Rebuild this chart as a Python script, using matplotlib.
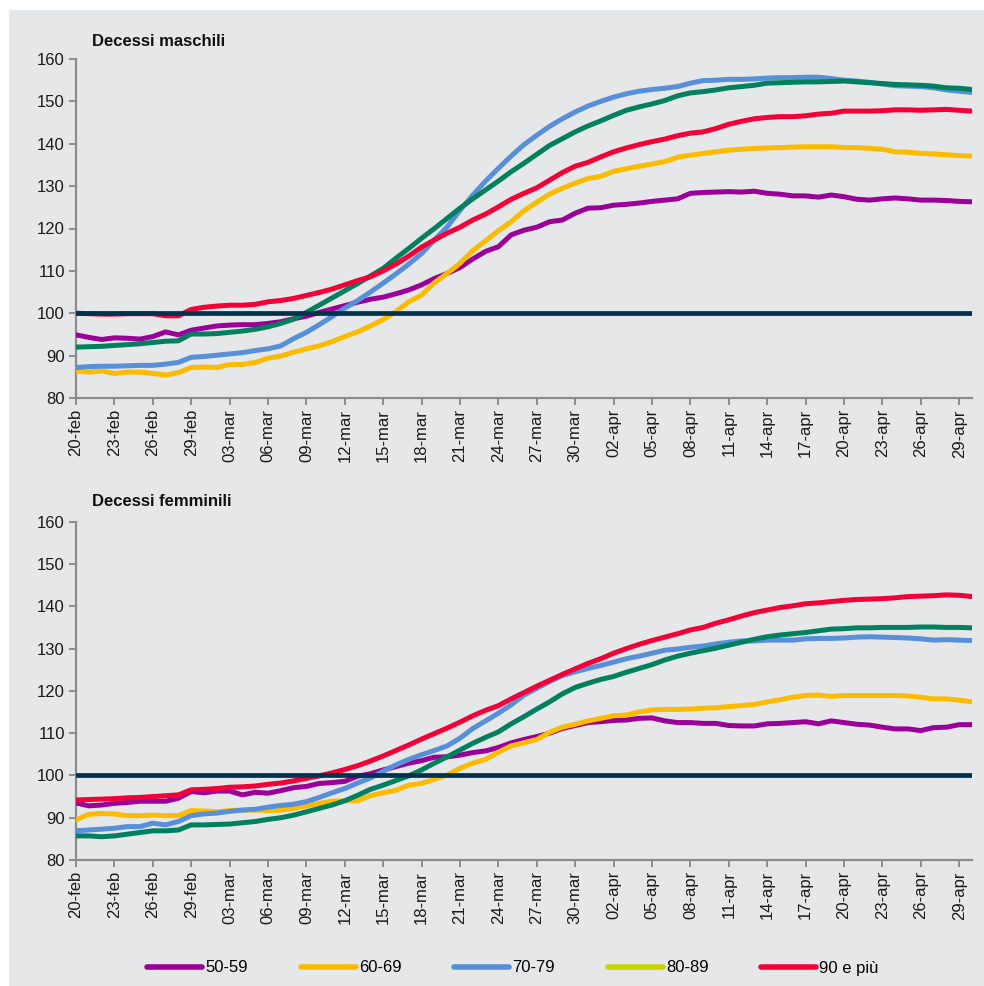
import numpy as np
import pandas as pd
import matplotlib
matplotlib.use("Agg")
import matplotlib.pyplot as plt
from matplotlib.lines import Line2D
from matplotlib.patches import Rectangle

plt.rcParams['font.family'] = ['Liberation Sans', 'DejaVu Sans']

# daily dates 20-feb .. 30-apr 2020
dates = pd.date_range('2020-02-20', '2020-04-30', freq='D')
mesi = {2: 'feb', 3: 'mar', 4: 'apr'}

groups = ['50-59', '60-69', '70-79', '80-89', '90 e più']

# Decessi maschili (index, base = 100)
m_50_59 = [94.9, 94.3, 93.8, 94.2, 94.1, 93.9, 94.5, 95.6, 94.9, 96.0,
           96.5, 97.0, 97.2, 97.3, 97.3, 97.6, 98.0, 98.7, 99.3, 100.2,
           101.0, 101.8, 102.6, 103.3, 103.8, 104.6, 105.5, 106.7, 108.2, 109.4,
           110.8, 112.8, 114.6, 115.7, 118.5, 119.6, 120.3, 121.6, 122.0, 123.6,
           124.8, 124.9, 125.5, 125.7, 126.0, 126.4, 126.7, 127.0, 128.3, 128.5,
           128.6, 128.7, 128.6, 128.8, 128.3, 128.1, 127.7, 127.7, 127.4, 127.9,
           127.5, 126.9, 126.7, 127.0, 127.2, 127.0, 126.7, 126.7, 126.6, 126.4,
           126.3]
m_60_69 = [86.4, 86.1, 86.4, 85.8, 86.1, 86.1, 85.8, 85.4, 86.0, 87.2,
           87.3, 87.2, 87.9, 87.9, 88.4, 89.4, 89.9, 90.8, 91.6, 92.3,
           93.3, 94.5, 95.6, 97.0, 98.5, 100.4, 102.7, 104.3, 107.2, 109.4,
           111.8, 114.8, 117.1, 119.5, 121.6, 124.2, 126.2, 128.1, 129.5, 130.7,
           131.8, 132.3, 133.5, 134.1, 134.7, 135.2, 135.8, 136.8, 137.3, 137.7,
           138.1, 138.5, 138.7, 138.9, 139.0, 139.1, 139.2, 139.3, 139.3, 139.3,
           139.1, 139.1, 138.9, 138.7, 138.1, 138.0, 137.7, 137.6, 137.4, 137.2,
           137.1]
m_70_79 = [87.2, 87.4, 87.5, 87.5, 87.6, 87.7, 87.7, 88.0, 88.4, 89.6,
           89.8, 90.1, 90.4, 90.7, 91.2, 91.6, 92.3, 94.0, 95.5, 97.3,
           99.2, 101.2, 103.0, 105.0, 107.1, 109.3, 111.6, 114.1, 117.3, 120.4,
           124.3, 127.9, 131.2, 134.2, 137.1, 139.8, 142.0, 144.1, 145.9, 147.5,
           148.9, 150.0, 151.0, 151.8, 152.4, 152.8, 153.1, 153.5, 154.3, 154.9,
           155.0, 155.2, 155.2, 155.3, 155.5, 155.6, 155.6, 155.7, 155.7, 155.4,
           155.0, 154.8, 154.5, 154.1, 153.7, 153.6, 153.5, 153.2, 152.7, 152.4,
           152.1]
m_80_89 = [92.0, 92.1, 92.2, 92.4, 92.6, 92.8, 93.1, 93.4, 93.5, 95.1,
           95.1, 95.2, 95.5, 95.8, 96.2, 96.8, 97.6, 98.6, 100.2, 101.9,
           103.6, 105.3, 107.0, 108.8, 110.6, 113.0, 115.3, 117.7, 120.0, 122.4,
           124.8, 127.0, 129.1, 131.2, 133.4, 135.4, 137.5, 139.6, 141.2, 142.8,
           144.2, 145.4, 146.7, 147.9, 148.7, 149.4, 150.2, 151.3, 152.0, 152.3,
           152.7, 153.2, 153.5, 153.8, 154.3, 154.4, 154.5, 154.6, 154.6, 154.7,
           154.8, 154.6, 154.4, 154.2, 154.0, 153.9, 153.8, 153.6, 153.2, 153.1,
           152.8]
m_90_piu = [100.0, 99.9, 99.8, 99.8, 99.9, 99.9, 99.9, 99.4, 99.4, 100.9,
            101.4, 101.7, 101.9, 101.9, 102.1, 102.7, 103.0, 103.5, 104.2, 104.9,
            105.7, 106.7, 107.7, 108.6, 110.0, 111.6, 113.5, 115.6, 117.3, 118.9,
            120.3, 122.0, 123.4, 125.1, 126.9, 128.3, 129.6, 131.4, 133.2, 134.7,
            135.6, 136.9, 138.1, 139.0, 139.8, 140.5, 141.1, 141.9, 142.5, 142.8,
            143.6, 144.6, 145.3, 145.9, 146.2, 146.4, 146.4, 146.6, 147.0, 147.2,
            147.7, 147.7, 147.7, 147.8, 148.0, 148.0, 147.9, 148.0, 148.1, 147.9,
            147.7]

# Decessi femminili
f_50_59 = [93.5, 92.8, 93.0, 93.4, 93.6, 93.9, 93.9, 93.9, 94.6, 96.2,
           95.9, 96.3, 96.3, 95.4, 96.0, 95.8, 96.4, 97.1, 97.4, 98.1,
           98.3, 98.6, 99.8, 100.4, 101.3, 102.1, 102.9, 103.5, 104.3, 104.4,
           104.8, 105.4, 105.8, 106.6, 107.7, 108.5, 109.2, 110.0, 111.1, 111.8,
           112.5, 112.7, 113.0, 113.1, 113.5, 113.6, 112.9, 112.5, 112.5, 112.3,
           112.3, 111.8, 111.7, 111.7, 112.2, 112.3, 112.5, 112.7, 112.2, 112.9,
           112.5, 112.1, 111.9, 111.4, 111.0, 111.0, 110.6, 111.3, 111.4, 112.0,
           112.0]
f_60_69 = [89.5, 90.8, 91.0, 90.9, 90.5, 90.5, 90.6, 90.5, 90.5, 91.7,
           91.6, 91.4, 91.7, 91.8, 91.8, 91.7, 91.8, 92.2, 92.8, 93.4,
           93.9, 94.0, 94.0, 95.2, 95.9, 96.5, 97.7, 98.1, 99.1, 100.1,
           101.7, 102.9, 103.8, 105.5, 107.0, 107.7, 108.5, 110.2, 111.4, 112.1,
           112.9, 113.5, 114.1, 114.3, 115.0, 115.5, 115.6, 115.6, 115.7, 115.9,
           116.0, 116.3, 116.5, 116.8, 117.4, 117.9, 118.5, 118.9, 119.0, 118.7,
           118.9, 118.9, 118.9, 118.9, 118.9, 118.8, 118.5, 118.1, 118.1, 117.8,
           117.4]
f_70_79 = [86.9, 87.1, 87.3, 87.5, 87.9, 87.9, 88.7, 88.3, 89.1, 90.5,
           90.9, 91.1, 91.5, 91.8, 92.0, 92.5, 92.9, 93.2, 93.8, 94.8,
           95.9, 96.9, 98.2, 99.4, 101.0, 102.5, 103.8, 104.9, 105.9, 107.0,
           108.8, 111.1, 112.9, 114.7, 116.7, 119.0, 120.6, 122.2, 123.6, 124.5,
           125.3, 126.0, 126.8, 127.6, 128.2, 128.9, 129.6, 129.9, 130.3, 130.6,
           131.1, 131.5, 131.8, 131.8, 132.0, 132.0, 132.0, 132.3, 132.4, 132.4,
           132.5, 132.7, 132.8, 132.7, 132.6, 132.5, 132.3, 132.0, 132.1, 132.0,
           131.9]
f_80_89 = [85.7, 85.7, 85.5, 85.7, 86.1, 86.5, 86.9, 86.9, 87.1, 88.3,
           88.3, 88.4, 88.5, 88.8, 89.1, 89.6, 90.0, 90.6, 91.4, 92.2,
           93.0, 94.0, 95.3, 96.7, 97.7, 98.8, 99.9, 101.3, 102.9, 104.4,
           106.0, 107.6, 109.0, 110.3, 112.2, 113.9, 115.7, 117.4, 119.3, 120.8,
           121.8, 122.7, 123.4, 124.4, 125.3, 126.2, 127.3, 128.2, 128.9, 129.5,
           130.1, 130.8, 131.5, 132.2, 132.8, 133.2, 133.5, 133.8, 134.2, 134.6,
           134.7, 134.9, 134.9, 135.0, 135.0, 135.0, 135.1, 135.1, 135.0, 135.0,
           134.9]
f_90_piu = [94.2, 94.3, 94.4, 94.5, 94.7, 94.8, 95.0, 95.2, 95.4, 96.6,
            96.7, 96.9, 97.2, 97.3, 97.5, 97.9, 98.2, 98.7, 99.3, 99.9,
            100.6, 101.4, 102.3, 103.4, 104.6, 105.9, 107.2, 108.6, 109.9, 111.2,
            112.6, 114.1, 115.4, 116.5, 118.1, 119.6, 121.1, 122.5, 123.9, 125.2,
            126.5, 127.6, 128.9, 130.0, 131.0, 131.9, 132.7, 133.5, 134.4, 135.0,
            136.0, 136.8, 137.7, 138.5, 139.1, 139.7, 140.1, 140.6, 140.8, 141.1,
            141.4, 141.6, 141.7, 141.8, 142.0, 142.3, 142.4, 142.5, 142.7, 142.6,
            142.3]

base = 100

line_colors = ['#9a0097', '#fdbb00', '#578fd8', '#00805e', '#f20038']
legend_colors = ['#9a0097', '#fdbb00', '#578fd8', '#c8d400', '#f20038']
bg = '#e6e7e9'
axis_grey = '#8c8c8c'

fig = plt.figure(figsize=(9.84, 9.86), dpi=100, facecolor='white')
# grey panel behind everything (white strip on top and left as in the source)
fig.patches.append(Rectangle((9 / 984, 0), 1 - 9 / 984, 1 - 10 / 986,
                             transform=fig.transFigure, facecolor=bg,
                             edgecolor='none', zorder=-10))

x = np.arange(len(dates))
tick_idx = x[::3]
tick_lab = [f"{d.day:02d}-{mesi[d.month]}" for d in dates[::3]]


def draw_panel(rect, series, title, title_y):
    ax = fig.add_axes(rect)
    ax.set_zorder(1)
    ax.set_facecolor('none')
    for vals, c in zip(series, line_colors):
        ax.plot(x, vals, color=c, lw=3.6, solid_capstyle='round', zorder=3)
    ax.axhline(base, color='#00314d', lw=3.4, solid_capstyle='round', zorder=5)
    ax.set_xlim(0, len(dates) - 1)
    ax.set_ylim(80, 160)
    ax.set_yticks(range(80, 161, 10))
    ax.set_xticks(tick_idx)
    ax.set_xticklabels(tick_lab, rotation=90)
    for s in ['top', 'right']:
        ax.spines[s].set_visible(False)
    for s in ['left', 'bottom']:
        ax.spines[s].set_color(axis_grey)
        ax.spines[s].set_linewidth(1.6)
    ax.tick_params(axis='both', direction='out', length=5, width=1.4,
                   color=axis_grey, labelsize=12, labelcolor='#1a1a1a', pad=3)
    fig.text(92 / 984, 1 - title_y / 986, title, fontsize=12, fontweight='bold',
             va='center', ha='left', color='#111111')
    return ax


ax1 = draw_panel([76 / 984, 1 - 398 / 986, 896 / 984, 339 / 986],
                 [m_50_59, m_60_69, m_70_79, m_80_89, m_90_piu],
                 'Decessi maschili', 42)
ax2 = draw_panel([76 / 984, 1 - 860 / 986, 896 / 984, 338.3 / 986],
                 [f_50_59, f_60_69, f_70_79, f_80_89, f_90_piu],
                 'Decessi femminili', 502)

handles = [Line2D([], [], color=c, lw=4, solid_capstyle='round') for c in legend_colors]
fig.legend(handles, groups, loc='center', ncol=5,
           bbox_to_anchor=(513 / 984, 1 - 968 / 986), frameon=False,
           handlelength=3.3, handletextpad=0.2, columnspacing=3.15,
           prop={'family': ['Liberation Sans Narrow', 'Liberation Sans'], 'size': 12})

fig.savefig('out.png', dpi=100, facecolor='white')
